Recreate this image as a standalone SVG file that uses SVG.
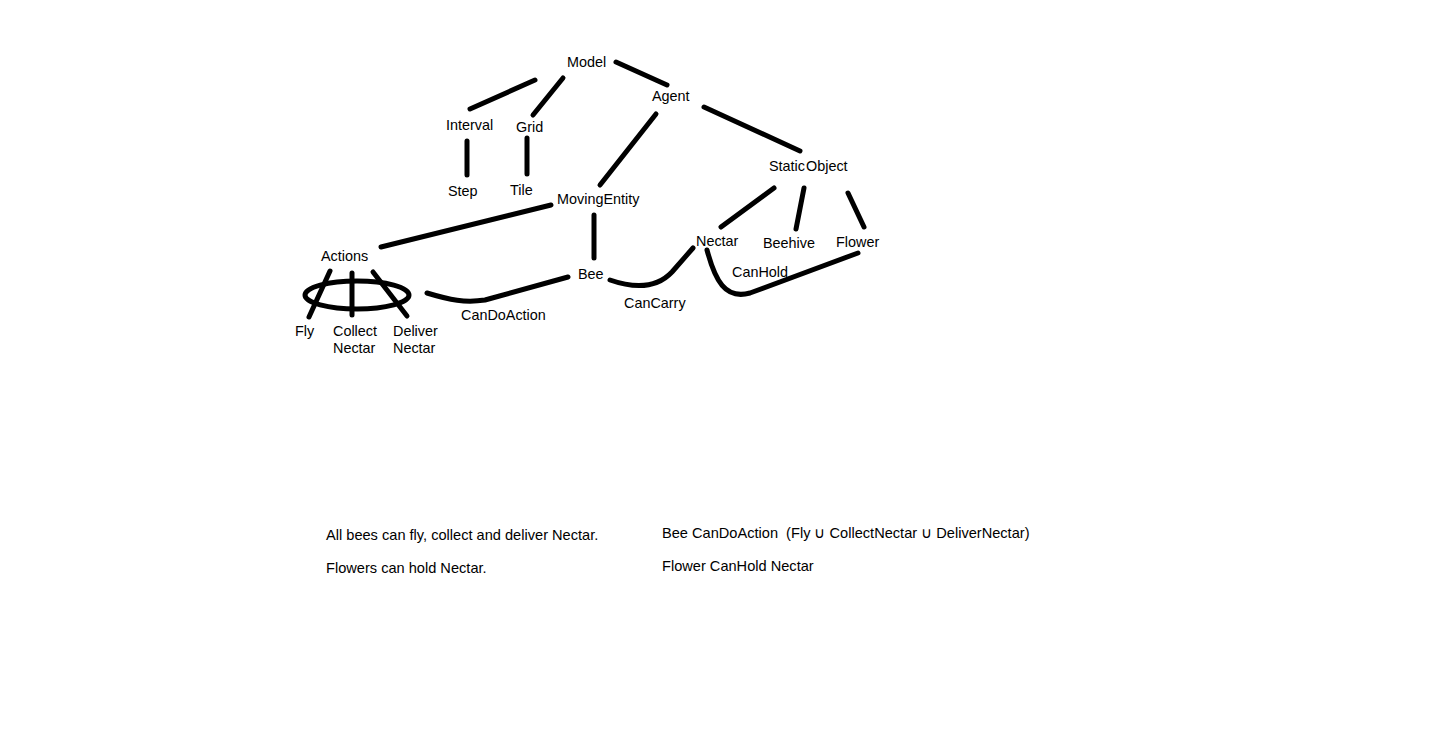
<svg xmlns="http://www.w3.org/2000/svg" width="1434" height="734" viewBox="0 0 1434 734">
<style>
text{font-family:"Liberation Sans",Arial,sans-serif;font-size:14.4px;fill:#000}
.c{fill:none;stroke:#000;stroke-width:5;stroke-linecap:round;stroke-linejoin:round}
</style>
<rect width="1434" height="734" fill="#fff"/>
<g id="connectors">
<path class="c" d="M535,80 L470,109"/>
<path class="c" d="M563,78 L533,115"/>
<path class="c" d="M616,62 L667,85"/>
<path class="c" d="M467,141 L467,175"/>
<path class="c" d="M527,138 L527,174"/>
<path class="c" d="M656,114 L600,185"/>
<path class="c" d="M704,107 L800,151"/>
<path class="c" d="M551,205 L381,247"/>
<path class="c" d="M594,215 L594,258"/>
<path class="c" d="M774,188 L721,227"/>
<path class="c" d="M804,188 L796,229"/>
<path class="c" d="M848,193 L864,227"/>
<path class="c" d="M427,293 C450,300 465,303 485,300 L568,277"/>
<path class="c" d="M610,280 C630,287 655,290 672,272 L693,248"/>
<path class="c" d="M707,250 C715,280 725,300 750,293 L858,253"/>
<ellipse class="c" cx="357" cy="295" rx="52" ry="14"/>
<path class="c" d="M330,271 L309,317"/>
<path class="c" d="M352,273 L352,315"/>
<path class="c" d="M373,272 L407,316"/>
</g>
<g id="Model"><text x="567" y="67">Model</text></g>
<g id="Agent"><text x="652" y="101">Agent</text></g>
<g id="Interval"><text x="446" y="130">Interval</text></g>
<g id="Grid"><text x="516" y="132">Grid</text></g>
<g id="Step"><text x="448" y="196">Step</text></g>
<g id="Tile"><text x="510" y="195">Tile</text></g>
<g id="MovingEntity"><text x="557" y="204">MovingEntity</text></g>
<g id="StaticObject"><text x="769" y="171">Static<tspan dx="1">Object</tspan></text></g>
<g id="Actions"><text x="321" y="261">Actions</text></g>
<g id="Bee"><text x="578" y="279">Bee</text></g>
<g id="Nectar"><text x="696" y="246">Nectar</text></g>
<g id="Beehive"><text x="763" y="248">Beehive</text></g>
<g id="Flower"><text x="836" y="247">Flower</text></g>
<g id="Fly"><text x="295" y="336">Fly</text></g>
<g id="CollectNectar"><text x="333" y="336">Collect</text><text x="333" y="353">Nectar</text></g>
<g id="DeliverNectar"><text x="393" y="336">Deliver</text><text x="393" y="353">Nectar</text></g>
<g id="labels">
<text x="732" y="277">CanHold</text>
<text x="624" y="308">CanCarry</text>
<text x="461" y="320">CanDoAction</text>
<text x="326" y="540" style="font-size:14.6px">All bees can fly, collect and deliver Nectar.</text>
<text x="326" y="573" style="font-size:14.6px">Flowers can hold Nectar.</text>
<text x="662" y="538" style="font-size:14.6px" xml:space="preserve">Bee CanDoAction  (Fly ∪ CollectNectar ∪ DeliverNectar)</text>
<text x="662" y="571" style="font-size:14.6px">Flower CanHold Nectar</text>
</g>
</svg>
